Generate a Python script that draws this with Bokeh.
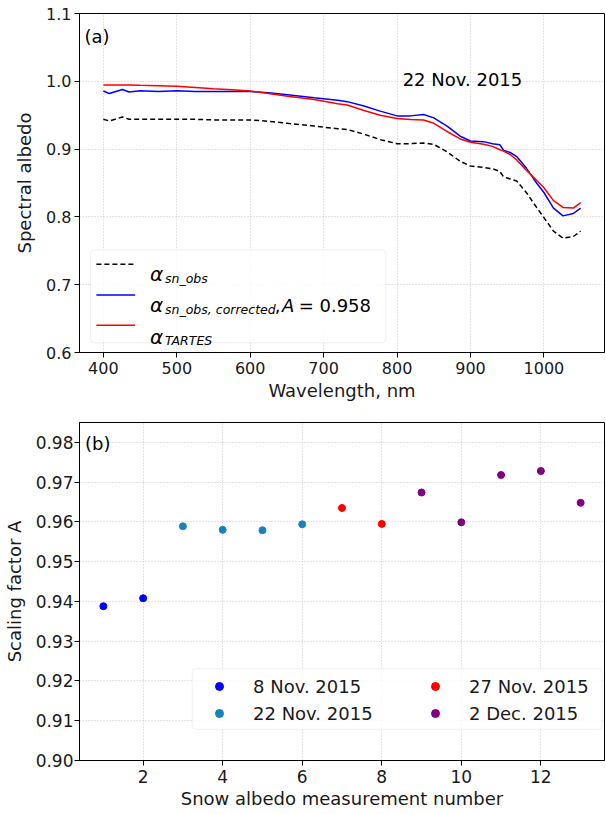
from bokeh.plotting import figure
from bokeh.models import (Range1d, FixedTicker, NumeralTickFormatter, BoxAnnotation,
                          Legend, LegendItem)
from bokeh.layouts import column
from bokeh.core.properties import value
from bokeh.embed import file_html
from bokeh.resources import INLINE

FONT = "DejaVu Sans"

# ---------------- data: panel (a) ----------------
wavelength = [400, 408, 426, 435, 450, 475, 500, 525, 550, 575, 600, 625, 651, 687,
              719, 732, 755, 777, 800, 818, 836, 850, 868, 886, 900, 918, 930, 940,
              945, 954, 963, 976, 990, 1000, 1013, 1026, 1040, 1050]
albedo_obs = [0.944, 0.9415, 0.9473, 0.944, 0.944, 0.944, 0.944, 0.944, 0.943, 0.943,
              0.943, 0.941, 0.938, 0.934, 0.930, 0.929, 0.922, 0.914, 0.908, 0.908,
              0.909, 0.907, 0.896, 0.882, 0.875, 0.873, 0.871, 0.867, 0.859, 0.856,
              0.853, 0.836, 0.814, 0.799, 0.779, 0.7685, 0.771, 0.779]
albedo_corrected = [0.9857, 0.982, 0.988, 0.9843, 0.986, 0.985, 0.986, 0.985, 0.985,
                    0.985, 0.985, 0.983, 0.980, 0.9756, 0.972, 0.970, 0.9636, 0.956,
                    0.949, 0.949, 0.951, 0.946, 0.934, 0.919, 0.912, 0.911, 0.908,
                    0.9064, 0.8985, 0.895, 0.889, 0.872, 0.850, 0.836, 0.813, 0.8015,
                    0.805, 0.813]
albedo_tartes = [0.9945, 0.9945, 0.9945, 0.9944, 0.994, 0.9935, 0.9926, 0.991, 0.989,
                 0.9875, 0.9857, 0.982, 0.978, 0.973, 0.967, 0.965, 0.957, 0.950, 0.945,
                 0.9435, 0.943, 0.938, 0.926, 0.915, 0.910, 0.907, 0.904, 0.899, 0.897,
                 0.892, 0.884, 0.869, 0.854, 0.843, 0.824, 0.814, 0.813, 0.821]
a_xticks = [400, 500, 600, 700, 800, 900, 1000]
a_yticks = [0.6, 0.7, 0.8, 0.9, 1.0, 1.1]

# ---------------- data: panel (b) ----------------
measurement_number = [1, 2, 3, 4, 5, 6, 7, 8, 9, 10, 11, 12, 13]
scaling_factor = [0.9388, 0.9408, 0.9589, 0.9580, 0.9579, 0.9594, 0.9635, 0.9595,
                  0.9674, 0.9599, 0.9718, 0.9728, 0.9648]
measurement_date = [0, 0, 1, 1, 1, 1, 2, 2, 3, 3, 3, 3, 3]
date_labels = ["8 Nov. 2015", "22 Nov. 2015", "27 Nov. 2015", "2 Dec. 2015"]
date_colors = ["#0000ff", "#1982be", "#ff0000", "#800080"]
b_xticks = [2, 4, 6, 8, 10, 12]
b_yticks = [0.90, 0.91, 0.92, 0.93, 0.94, 0.95, 0.96, 0.97, 0.98]

DASH = "5 3"


def style(p, tick_size, label_size, ystand, tick_pad_y, xstand):
    p.outline_line_color = "black"
    p.outline_line_width = 1
    p.outline_line_alpha = 1
    p.background_fill_color = "white"
    p.border_fill_color = "white"
    for ax in (p.xaxis[0], p.yaxis[0]):
        ax.major_tick_in = 0
        ax.major_tick_out = 5
        ax.minor_tick_line_color = None
        ax.axis_line_color = "black"
        ax.major_tick_line_color = "black"
        ax.major_label_text_font = FONT
        ax.major_label_text_font_size = tick_size
        ax.major_label_text_color = "#1a1a1a"
        ax.axis_label_text_font = FONT
        ax.axis_label_text_font_size = label_size
        ax.axis_label_text_font_style = "normal"
        ax.axis_label_text_color = "#1a1a1a"
    p.xaxis[0].major_label_standoff = 4
    p.xaxis[0].axis_label_standoff = xstand
    p.yaxis[0].major_label_standoff = tick_pad_y
    p.yaxis[0].axis_label_standoff = ystand
    for g in (p.xgrid[0], p.ygrid[0]):
        g.grid_line_color = "#c8c8c8"
        g.grid_line_dash = "1 2"
        g.grid_line_width = 1


def text_kw(size, style="normal"):
    return dict(text_font=value(FONT), text_font_size=size, text_font_style=style,
                text_baseline="alphabetic", text_align="left", text_color="black")


# ================= panel (a) =================
p1 = figure(width=606, height=405, x_range=Range1d(367.5, 1082.5),
            y_range=Range1d(0.6, 1.1), output_backend="svg", toolbar_location=None,
            min_border_left=78, min_border_right=2, min_border_top=13,
            min_border_bottom=53)
style(p1, "16px", "18px", 8, 3, 3)
p1.xaxis.ticker = FixedTicker(ticks=a_xticks)
p1.yaxis.ticker = FixedTicker(ticks=a_yticks)
p1.yaxis.formatter = NumeralTickFormatter(format="0.0")
p1.xaxis.axis_label = "Wavelength, nm"
p1.yaxis.axis_label = "Spectral albedo"

p1.line(wavelength, albedo_obs, line_color="black", line_dash=DASH, line_width=1.5)
p1.line(wavelength, albedo_corrected, line_color="#0000ff", line_width=1.5)
p1.line(wavelength, albedo_tartes, line_color="#ff0000", line_width=1.5)

# legend of panel (a), drawn by hand (math-style labels)
p1.add_layout(BoxAnnotation(left=382.4, right=784.6, top=0.7514, bottom=0.6143,
                            fill_color="white", fill_alpha=0.8, line_color="#cccccc",
                            line_width=1, border_radius=4, level="underlay"))
p1.segment(x0=[390.5], x1=[443.3], y0=[0.7303], y1=[0.7303], line_color="black",
           line_dash=DASH, line_width=1.5)
p1.segment(x0=[390.5], x1=[443.3], y0=[0.6848], y1=[0.6848], line_color="#0000ff",
           line_width=1.5)
p1.segment(x0=[390.5], x1=[443.3], y0=[0.6401], y1=[0.6401], line_color="#ff0000",
           line_width=1.5)
p1.text(x=[463.6, 463.6, 463.6], y=[0.7153, 0.670, 0.6234], text=["α", "α", "α"],
        **text_kw("20px", "italic"))
p1.text(x=[484.0, 484.0, 484.0], y=[0.7094, 0.6641, 0.6175],
        text=["sn_obs", "sn_obs, corrected", "TARTES"], **text_kw("12.5px", "italic"))
p1.text(x=[633.5], y=[0.670], text=[","], **text_kw("18px"))
p1.text(x=[643.4], y=[0.670], text=["A"], **text_kw("18px", "italic"))
p1.text(x=[666.0], y=[0.670], text=["= 0.958"], **text_kw("18px"))
p1.text(x=[807.6], y=[1.002], text=["22 Nov. 2015"], **text_kw("18px"))
p1.text(x=[374.3], y=[1.066], text=["(a)"], **text_kw("18px"))

# ================= panel (b) =================
p2 = figure(width=606, height=407, x_range=Range1d(0.4, 13.6),
            y_range=Range1d(0.90, 0.985), output_backend="svg", toolbar_location=None,
            min_border_left=78, min_border_right=2, min_border_top=17,
            min_border_bottom=52)
style(p2, "17px", "18px", 8, 1, 2)
p2.xaxis.ticker = FixedTicker(ticks=b_xticks)
p2.yaxis.ticker = FixedTicker(ticks=b_yticks)
p2.yaxis.formatter = NumeralTickFormatter(format="0.00")
p2.xaxis.axis_label = "Snow albedo measurement number"
p2.yaxis.axis_label = "Scaling factor A"

p2.add_layout(BoxAnnotation(left=3.233, right=13.54, top=0.92308, bottom=0.90783,
                            fill_color="white", fill_alpha=0.8, line_color="#cccccc",
                            line_width=1, border_radius=4, level="underlay"))

renderers = []
for k, (lab, col) in enumerate(zip(date_labels, date_colors)):
    xs = [m for m, d in zip(measurement_number, measurement_date) if d == k]
    ys = [a for a, d in zip(scaling_factor, measurement_date) if d == k]
    r = p2.scatter(xs, ys, size=7, marker="circle", fill_color=col, line_color=col)
    renderers.append(r)


def make_legend(items, loc):
    leg = Legend(items=items, location=loc, orientation="vertical",
                 border_line_alpha=0, background_fill_alpha=0, padding=0, margin=0,
                 spacing=3, glyph_width=20, glyph_height=24, label_height=24,
                 label_standoff=24, label_text_font=FONT, label_text_font_size="18px",
                 label_text_color="#1a1a1a")
    return leg


leg1 = make_legend([LegendItem(label=date_labels[0], renderers=[renderers[0]]),
                    LegendItem(label=date_labels[1], renderers=[renderers[1]])], (130, 35))
leg2 = make_legend([LegendItem(label=date_labels[2], renderers=[renderers[2]]),
                    LegendItem(label=date_labels[3], renderers=[renderers[3]])], (346, 35))
p2.add_layout(leg1)
p2.add_layout(leg2)

p2.text(x=[0.538], y=[0.97965], text=["(b)"], **text_kw("18px"))

layout = column(p1, p2)
open("out.html", "w").write(file_html(layout, INLINE))
